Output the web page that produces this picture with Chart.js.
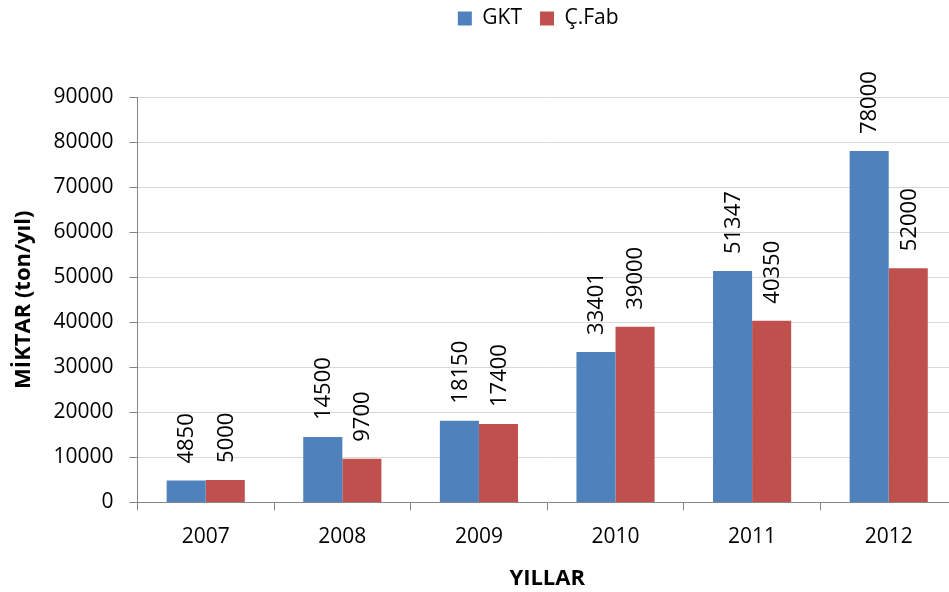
<!DOCTYPE html>
<html>
<head>
<meta charset="utf-8">
<script src="https://cdn.jsdelivr.net/npm/chart.js@4/dist/chart.umd.min.js"></script>
<style>
  html, body { margin: 0; padding: 0; background: #fff; overflow: hidden; }
  #wrap { width: 949px; height: 592px; overflow: hidden; }
</style>
</head>
<body>
<div id="wrap"><canvas id="chart" width="957" height="592"></canvas></div>
<script>
const years = ['2007', '2008', '2009', '2010', '2011', '2012'];
const gktValues = [4850, 14500, 18150, 33401, 51347, 78000];
const fabValues = [5000, 9700, 17400, 39000, 40350, 52000];
const yTicks = [0, 10000, 20000, 30000, 40000, 50000, 60000, 70000, 80000, 90000];

const FONT = "'Open Sans', sans-serif";

// draws each value rotated, just above its bar
const barLabels = {
  id: 'barLabels',
  afterDatasetsDraw(chart) {
    const ctx = chart.ctx;
    ctx.save();
    ctx.font = '22px ' + FONT;
    ctx.fillStyle = '#000';
    ctx.textAlign = 'left';
    ctx.textBaseline = 'middle';
    chart.data.datasets.forEach((ds, i) => {
      chart.getDatasetMeta(i).data.forEach((bar, j) => {
        ctx.save();
        ctx.translate(bar.x + 1, bar.y - 17);
        ctx.rotate(-Math.PI / 2);
        ctx.fillText(String(ds.data[j]), 0, 0);
        ctx.restore();
      });
    });
    ctx.restore();
  }
};

// extra room between the legend and the plot, and nudge the legend up/left
const legendGap = {
  id: 'legendGap',
  beforeInit(chart) {
    const fit = chart.legend.fit;
    chart.legend.fit = function () {
      fit.bind(chart.legend)();
      this.height += 48;
    };
  },
  afterLayout(chart) {
    const lg = chart.legend;
    lg.top -= 10;
    lg.bottom -= 10;
    lg.left -= 9;
    lg.right -= 9;
  }
};

const ctx = document.getElementById('chart').getContext('2d');
new Chart(ctx, {
  type: 'bar',
  data: {
    labels: years,
    datasets: [
      {
        label: 'GKT',
        data: gktValues,
        backgroundColor: '#4F81BD',
        borderWidth: 0,
        categoryPercentage: 0.572,
        barPercentage: 1,
      },
      {
        label: 'Ç.Fab',
        data: fabValues,
        backgroundColor: '#C0504D',
        borderWidth: 0,
        categoryPercentage: 0.572,
        barPercentage: 1,
      },
    ],
  },
  options: {
    responsive: false,
    animation: false,
    layout: { padding: { top: 0, right: 0, bottom: 0, left: 7 } },
    plugins: {
      legend: {
        position: 'top',
        fullSize: false,
        labels: {
          font: { family: FONT, size: 21 },
          color: '#000',
          boxWidth: 14,
          boxHeight: 14,
          padding: 18,
        },
      },
      tooltip: { enabled: false },
    },
    scales: {
      x: {
        grid: { display: true, drawOnChartArea: false, color: '#868686', tickLength: 8, offset: true },
        border: { color: '#868686' },
        ticks: { font: { family: FONT, size: 21 }, color: '#000', padding: 14 },
        title: {
          display: true,
          text: 'YILLAR',
          font: { family: FONT, size: 22, weight: 'bold' },
          color: '#000',
          padding: { top: 2, bottom: 0 },
        },
      },
      y: {
        min: 0,
        max: 90000,
        afterBuildTicks(axis) {
          axis.ticks = yTicks.map(v => ({ value: v }));
        },
        grid: { color: '#D9D9D9', tickLength: 8, tickColor: '#868686' },
        border: { color: '#868686' },
        ticks: {
          font: { family: FONT, size: 21 },
          color: '#000',
          padding: 16,
          callback: v => String(v),
        },
        title: {
          display: true,
          text: 'MİKTAR (ton/yıl)',
          font: { family: FONT, size: 22, weight: 'bold' },
          color: '#000',
          padding: { bottom: 0 },
        },
      },
    },
  },
  plugins: [barLabels, legendGap],
});
</script>
</body>
</html>
